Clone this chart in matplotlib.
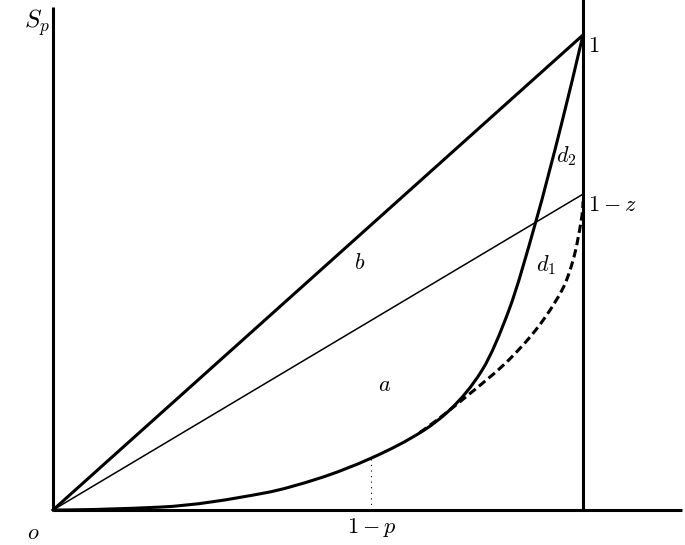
import matplotlib
matplotlib.use("Agg")
import matplotlib.pyplot as plt
import numpy as np
from matplotlib.path import Path
from matplotlib.patches import PathPatch

plt.rcParams['mathtext.fontset'] = 'cm'

# Data (unit square: x = population share, y = S_p)
lorenz_x = [0.0, 0.2, 0.4, 0.5, 0.6, 0.7, 0.75, 0.81, 0.86, 0.91, 0.96, 1.0]
lorenz_y = [0.0, 0.006, 0.036, 0.066, 0.109, 0.168, 0.212, 0.295, 0.420, 0.603, 0.815, 1.0]

dashed_x = [0.692, 0.780, 0.862, 0.925, 0.969, 0.990, 1.0]
dashed_y = [0.163, 0.239, 0.318, 0.400, 0.484, 0.568, 0.650]

one_minus_z = 0.665
one_minus_p = 0.60
p_curve_y = 0.109

fig = plt.figure(figsize=(6.85, 5.45), dpi=100)
ax = fig.add_axes([0, 0, 1, 1])
ax.set_xlim(-0.1, 1.1925)
ax.set_ylim(-0.0737, 1.0737)
ax.axis('off')


def hermite_path(t, v, d_start, d_end, swap=False):
    """Smooth monotone cubic (Bezier) path through (t, v) points; rendering only."""
    t = np.asarray(t, float)
    v = np.asarray(v, float)
    h = np.diff(t)
    s = np.diff(v) / h
    n = len(t)
    m = np.zeros(n)
    m[0], m[-1] = d_start, d_end
    for i in range(1, n - 1):
        if s[i - 1] * s[i] <= 0:
            m[i] = 0.0
        else:
            w1 = 2 * h[i] + h[i - 1]
            w2 = h[i] + 2 * h[i - 1]
            m[i] = (w1 + w2) / (w1 / s[i - 1] + w2 / s[i])
    verts = [(t[0], v[0])]
    codes = [Path.MOVETO]
    for i in range(n - 1):
        verts += [(t[i] + h[i] / 3, v[i] + m[i] * h[i] / 3),
                  (t[i + 1] - h[i] / 3, v[i + 1] - m[i + 1] * h[i] / 3),
                  (t[i + 1], v[i + 1])]
        codes += [Path.CURVE4] * 3
    V = np.array(verts)
    if swap:
        V = V[:, ::-1]
    return Path(V, codes)


lw_thick = 2.2
# axes lines
ax.plot([0, 0], [0, 1.059], color='black', lw=lw_thick, solid_capstyle='butt')
ax.plot([0, 1.187], [0, 0], color='black', lw=lw_thick, solid_capstyle='butt')
ax.plot([1, 1], [0, 1.08], color='black', lw=lw_thick, solid_capstyle='butt')

# diagonal b
ax.plot([0, 1], [0, 1], color='black', lw=lw_thick)
# thin line to 1-z
ax.plot([0, 1], [0, one_minus_z], color='black', lw=1.1)
# Lorenz curve (y as function of x)
ax.add_patch(PathPatch(hermite_path(lorenz_x, lorenz_y, 0.0, 4.7),
                       facecolor='none', edgecolor='black', lw=lw_thick))
# dashed curve (x as function of y)
ax.add_patch(PathPatch(hermite_path(dashed_y, dashed_x, 1.3, 0.0, swap=True),
                       facecolor='none', edgecolor='black', lw=lw_thick,
                       linestyle=(0, (2.7, 1.4))))
# dotted vertical at 1-p
ax.plot([one_minus_p, one_minus_p], [0, p_curve_y], color='black', lw=0.8,
        linestyle=(0, (1, 4)))

fs = 16
ax.text(-0.03, 1.027, r'$S_p$', fontsize=18, ha='center', va='center')
ax.text(1.009, 0.977, r'$1$', fontsize=fs, ha='left', va='center')
ax.text(1.009, 0.642, r'$1-z$', fontsize=fs, ha='left', va='center')
ax.text(0.969, 0.745, r'$d_2$', fontsize=fs, ha='center', va='center')
ax.text(0.930, 0.516, r'$d_1$', fontsize=fs, ha='center', va='center')
ax.text(0.579, 0.52, r'$b$', fontsize=fs, ha='center', va='center')
ax.text(0.626, 0.263, r'$a$', fontsize=fs, ha='center', va='center')
ax.text(0.602, -0.036, r'$1-p$', fontsize=fs, ha='center', va='center')
ax.text(-0.038, -0.048, r'$o$', fontsize=fs, ha='center', va='center')

fig.savefig('out.png', dpi=100)
